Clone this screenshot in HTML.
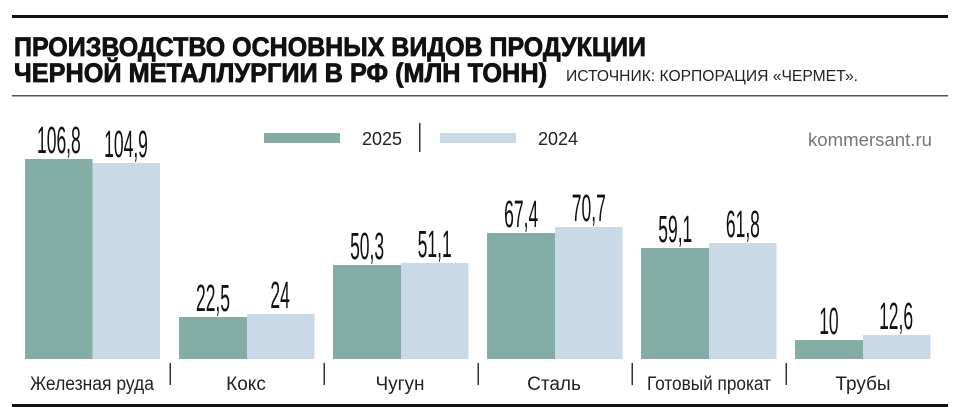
<!DOCTYPE html>
<html><head><meta charset="utf-8"><style>body{margin:0;background:#fff}svg{display:block}</style></head>
<body>
<svg width="960" height="418" xmlns="http://www.w3.org/2000/svg" font-family="Liberation Sans, sans-serif">
<rect x="12" y="15" width="936" height="3" fill="#111"/>
<text x="14" y="56" font-size="27" font-weight="bold" fill="#111" stroke="#111" stroke-width="0.8" textLength="632" lengthAdjust="spacingAndGlyphs">ПРОИЗВОДСТВО ОСНОВНЫХ ВИДОВ ПРОДУКЦИИ</text>
<text x="14" y="82" font-size="27" font-weight="bold" fill="#111" stroke="#111" stroke-width="0.8" textLength="533" lengthAdjust="spacingAndGlyphs">ЧЕРНОЙ МЕТАЛЛУРГИИ В РФ (МЛН ТОНН)</text>
<text x="566" y="81" font-size="16" fill="#222" textLength="292" lengthAdjust="spacingAndGlyphs">ИСТОЧНИК: КОРПОРАЦИЯ «ЧЕРМЕТ».</text>
<rect x="12" y="95" width="936" height="1.5" fill="#555"/>
<rect x="264" y="133" width="76" height="10" fill="#84ada6"/>
<text x="362" y="145" font-size="18" fill="#222" textLength="40" lengthAdjust="spacingAndGlyphs">2025</text>
<rect x="419" y="123" width="1.5" height="29" fill="#333"/>
<rect x="440" y="133" width="76" height="10" fill="#c9d9e8"/>
<text x="538" y="145" font-size="18" fill="#222" textLength="40" lengthAdjust="spacingAndGlyphs">2024</text>
<text x="932" y="146" font-size="18" fill="#777" text-anchor="end" textLength="124" lengthAdjust="spacingAndGlyphs">kommersant.ru</text>
<g id="bars">
<rect x="25" y="159" width="67.5" height="200" fill="#84ada6"/><rect x="92.5" y="163" width="67.5" height="196" fill="#c9d9e8"/>
<rect x="179" y="317" width="68" height="42" fill="#84ada6"/><rect x="247" y="314" width="67.5" height="45" fill="#c9d9e8"/>
<rect x="333" y="265" width="68" height="94" fill="#84ada6"/><rect x="401" y="263" width="67.5" height="96" fill="#c9d9e8"/>
<rect x="487" y="233" width="68" height="126" fill="#84ada6"/><rect x="555" y="227" width="67.5" height="132" fill="#c9d9e8"/>
<rect x="641" y="248" width="68" height="111" fill="#84ada6"/><rect x="709" y="243" width="67.5" height="116" fill="#c9d9e8"/>
<rect x="795" y="340" width="68" height="19" fill="#84ada6"/><rect x="863" y="335" width="67.5" height="24" fill="#c9d9e8"/>
</g>
<g font-size="38" fill="#111" text-anchor="middle" transform="scale(0.46,1)">
<text x="128" y="153">106,8</text><text x="274" y="157">104,9</text>
<text x="463" y="311">22,5</text><text x="609" y="308">24</text>
<text x="798" y="259">50,3</text><text x="945" y="257">51,1</text>
<text x="1133" y="227">67,4</text><text x="1280" y="221">70,7</text>
<text x="1468" y="242">59,1</text><text x="1615" y="237">61,8</text>
<text x="1802" y="334">10</text><text x="1948" y="329">12,6</text>
</g>
<g font-size="19" fill="#222" text-anchor="middle">
<text x="92" y="390" textLength="124" lengthAdjust="spacingAndGlyphs">Железная руда</text>
<text x="246" y="390">Кокс</text>
<text x="400" y="390">Чугун</text>
<text x="554" y="390">Сталь</text>
<text x="709" y="390" textLength="124" lengthAdjust="spacingAndGlyphs">Готовый прокат</text>
<text x="863" y="390">Трубы</text>
</g>
<g fill="#333">
<rect x="169.5" y="363" width="1.5" height="22"/><rect x="323.5" y="363" width="1.5" height="22"/>
<rect x="477.5" y="363" width="1.5" height="22"/><rect x="631.5" y="363" width="1.5" height="22"/>
<rect x="785.5" y="363" width="1.5" height="22"/>
</g>
<rect x="12" y="404" width="936" height="3" fill="#111"/>
</svg>
</body></html>
